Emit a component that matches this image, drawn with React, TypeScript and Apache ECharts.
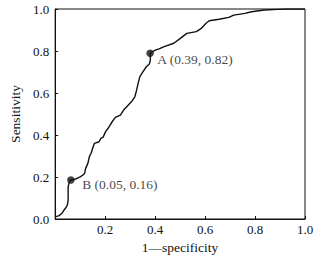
import React, { useEffect, useRef } from "react";
import * as echarts from "echarts";

const fpr = [0, 0.016, 0.027, 0.036, 0.044, 0.049, 0.052, 0.052, 0.057, 0.063, 0.079, 0.098, 0.112, 0.118, 0.122, 0.131, 0.137, 0.144, 0.15, 0.157, 0.176, 0.183, 0.192, 0.202, 0.215, 0.228, 0.241, 0.261, 0.274, 0.293, 0.306, 0.319, 0.326, 0.332, 0.339, 0.351, 0.365, 0.377, 0.381, 0.381, 0.39, 0.403, 0.416, 0.436, 0.475, 0.501, 0.527, 0.565, 0.585, 0.604, 0.617, 0.656, 0.695, 0.715, 0.76, 0.786, 0.838, 0.89, 0.93, 1.0];
const tpr = [0.01, 0.016, 0.027, 0.043, 0.056, 0.067, 0.09, 0.154, 0.178, 0.186, 0.189, 0.199, 0.21, 0.218, 0.241, 0.265, 0.297, 0.313, 0.337, 0.36, 0.368, 0.384, 0.39, 0.416, 0.437, 0.463, 0.484, 0.495, 0.519, 0.543, 0.559, 0.582, 0.614, 0.646, 0.678, 0.701, 0.725, 0.738, 0.757, 0.789, 0.797, 0.805, 0.81, 0.821, 0.837, 0.86, 0.884, 0.892, 0.908, 0.932, 0.944, 0.951, 0.96, 0.971, 0.979, 0.987, 0.995, 0.998, 1.0, 1.0];

const markNames = ["A (0.39, 0.82)", "B (0.05, 0.16)"];
const markX = [0.38, 0.063];
const markY = [0.789, 0.186];

const xName = "1\u2014specificity";
const yName = "Sensitivity";

const FONT = "'Liberation Serif', 'Times New Roman', serif";

export default function App() {
  const ref = useRef<HTMLDivElement>(null);
  useEffect(() => {
    if (!ref.current) return;
    const chart = echarts.init(ref.current, undefined, { renderer: "svg" });
    const labelOffsets = [[11, 9.5], [15, 8]];
    chart.setOption({
      animation: false,
      grid: { left: 48, right: 16, top: 9, bottom: 41, show: true, borderColor: "#111", borderWidth: 1 },
      xAxis: {
        type: "value", min: 0, max: 1, interval: 0.2,
        name: xName, nameLocation: "middle", nameGap: 21,
        nameTextStyle: { fontFamily: FONT, fontSize: 13.5, color: "#111" },
        axisLine: { lineStyle: { color: "#111", width: 1 } },
        axisTick: { inside: true, length: 3, lineStyle: { color: "#111" } },
        axisLabel: { margin: 4, fontFamily: FONT, fontSize: 13, color: "#111",
          formatter: (v: number) => (v === 0 ? "" : v.toFixed(1)) },
        splitLine: { show: false },
      },
      yAxis: {
        type: "value", min: 0, max: 1, interval: 0.2,
        name: yName, nameLocation: "middle", nameGap: 33,
        nameTextStyle: { fontFamily: FONT, fontSize: 13.5, color: "#111" },
        axisLine: { show: true, lineStyle: { color: "#111", width: 1 } },
        axisTick: { show: true, inside: true, length: 3, lineStyle: { color: "#111" } },
        axisLabel: { margin: 6, fontFamily: FONT, fontSize: 13, color: "#111",
          formatter: (v: number) => v.toFixed(1) },
        splitLine: { show: false },
      },
      series: [
        {
          type: "line",
          data: fpr.map((x, i) => [x, tpr[i]]),
          showSymbol: false,
          lineStyle: { color: "#111", width: 1.4 },
          z: 2,
        },
        {
          type: "scatter",
          symbolSize: 7.5,
          itemStyle: { color: "#111" },
          data: markNames.map((n, i) => ({
            value: [markX[i], markY[i]],
            name: n,
            label: {
              show: true,
              position: labelOffsets[i],
              formatter: n,
              fontFamily: FONT,
              fontSize: 13.5,
              color: "#111",
              align: "left",
              verticalAlign: "middle",
            },
          })),
          z: 3,
        },
      ],
    });
    return () => chart.dispose();
  }, []);
  return <div ref={ref} style={{ position: "absolute", left: 0, top: 0, width: 321, height: 260 }} />;
}
